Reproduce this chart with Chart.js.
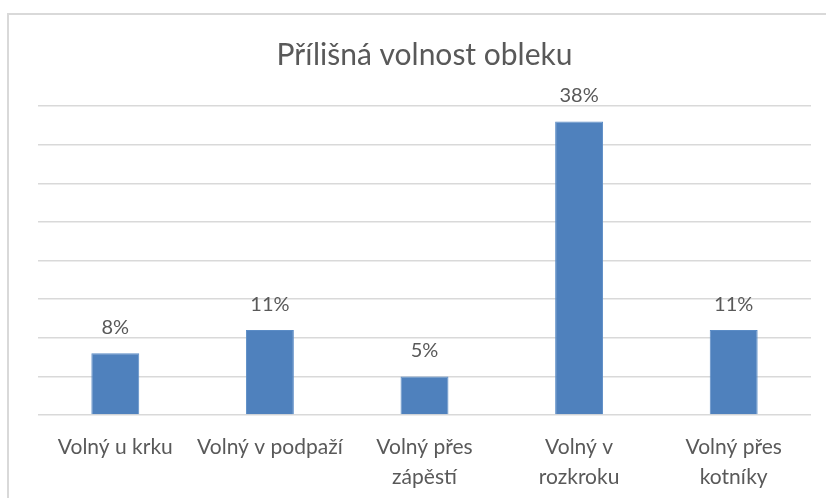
<!DOCTYPE html>
<html>
<head>
<meta charset="utf-8">
<script src="https://cdn.jsdelivr.net/npm/chart.js@4"></script>
<style>
  html, body { margin: 0; padding: 0; background: #fff; }
  #wrap { width: 826px; height: 498px; }
</style>
</head>
<body>
<div id="wrap"><canvas id="volnostChart" width="826" height="498"></canvas></div>
<script>
const categories = [
    'Volný u krku',
    'Volný v podpaží',
    ['Volný přes', 'zápěstí'],
    ['Volný v', 'rozkroku'],
    ['Volný přes', 'kotníky']
];
const percentValues = [8, 11, 5, 38, 11];
const gridTicks = [0, 5, 10, 15, 20, 25, 30, 35, 40];

const textColor = '#595959';

// thin grey frame like the Excel chart area, cut off at right and bottom
const frame = {
    id: 'frame',
    beforeDraw(chart) {
        const ctx = chart.ctx;
        ctx.save();
        ctx.fillStyle = '#fff';
        ctx.fillRect(0, 0, chart.width, chart.height);
        ctx.strokeStyle = '#d9d9d9';
        ctx.lineWidth = 2;
        ctx.beginPath();
        ctx.moveTo(8, chart.height + 2);
        ctx.lineTo(8, 14);
        ctx.lineTo(chart.width + 2, 14);
        ctx.stroke();
        ctx.restore();
    }
};

const valueLabels = {
    id: 'valueLabels',
    afterDatasetsDraw(chart) {
        const ctx = chart.ctx;
        const meta = chart.getDatasetMeta(0);
        ctx.save();
        ctx.font = '20px Lato';
        ctx.fillStyle = textColor;
        ctx.textAlign = 'center';
        ctx.textBaseline = 'alphabetic';
        meta.data.forEach((bar, i) => {
            ctx.fillText(percentValues[i] + '%', bar.x, bar.y - 19);
        });
        ctx.restore();
    }
};

new Chart(document.getElementById('volnostChart'), {
    type: 'bar',
    data: {
        labels: categories,
        datasets: [{
            label: 'Přílišná volnost obleku',
            data: percentValues,
            backgroundColor: '#4f81bd',
            borderColor: '#5b8cc6',
            borderWidth: 1,
            categoryPercentage: 1,
            barPercentage: 0.31
        }]
    },
    options: {
        responsive: false,
        animation: false,
        layout: {
            padding: { left: 38, right: 15, top: 0, bottom: 8 }
        },
        scales: {
            y: {
                min: 0,
                max: 40,
                afterBuildTicks(axis) {
                    axis.ticks = gridTicks.map(v => ({ value: v }));
                },
                ticks: { display: false },
                border: { display: false },
                grid: { color: '#d9d9d9', lineWidth: 1.5, drawTicks: false }
            },
            x: {
                afterFit(axis) {
                    axis.height = 75;
                },
                grid: { display: false, drawTicks: false },
                border: { display: false },
                ticks: {
                    color: textColor,
                    padding: 17,
                    maxRotation: 0,
                    autoSkip: false,
                    font: { family: 'Lato', size: 21, lineHeight: 1.43 }
                }
            }
        },
        plugins: {
            legend: { display: false },
            tooltip: { enabled: false },
            title: {
                display: true,
                text: 'Přílišná volnost obleku',
                color: textColor,
                font: { family: 'Lato', size: 30, weight: 'normal', lineHeight: 1.2 },
                padding: { top: 37, bottom: 33 }
            }
        }
    },
    plugins: [frame, valueLabels]
});
</script>
</body>
</html>
